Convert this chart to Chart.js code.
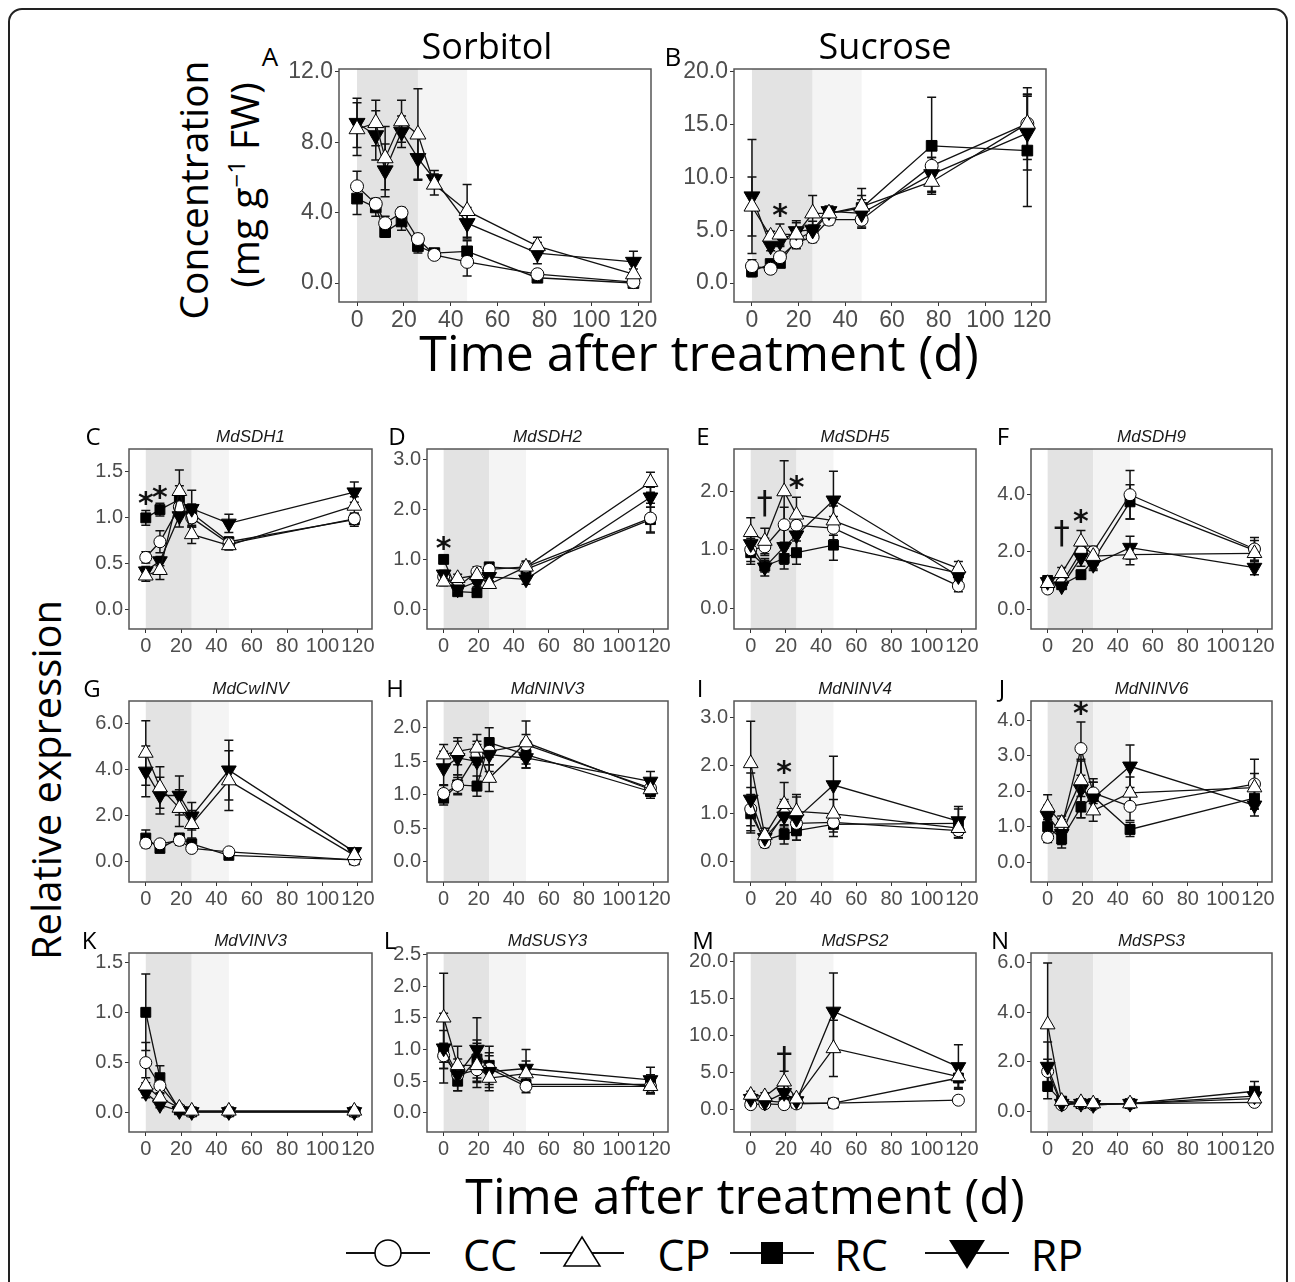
<!DOCTYPE html>
<html>
<head>
<meta charset="utf-8">
<script src="https://cdn.jsdelivr.net/npm/chart.js@4.4.0/dist/chart.umd.min.js"></script>
<style>
body{margin:0;background:#fff;}
#fig{position:relative;width:1295px;height:1282px;overflow:hidden;font-family:"Open Sans",sans-serif;background:#fff;}
.frame{position:absolute;left:8px;top:8px;width:1276px;height:1300px;border:2px solid #222;border-radius:14px;}
.t{position:absolute;white-space:nowrap;color:#000;transform:translate(-50%,-50%);line-height:1;}
.rot{transform:translate(-50%,-50%) rotate(-90deg);}
.gene{font-family:"Liberation Sans",Arial,sans-serif;font-style:italic;font-size:17px;color:#1a1a1a;}
canvas{position:absolute;}
</style>
</head>
<body>
<div id="fig"><div class="frame"></div></div>
<script>
// sampling days
var longDays = [0, 8, 12, 19, 26, 33, 47, 77, 118];
var shortDays = [0, 8, 19, 26, 47, 118];
var xTicks = [0, 20, 40, 60, 80, 100, 120];
var groups = ["CC", "CP", "RC", "RP"];

// rows: CC, CP, RC, RP
var sorbitolMean = [
	[5.5, 4.5, 3.4, 4.0, 2.5, 1.6, 1.2, 0.5, 0.05],
	[8.75, 9.1, 7.1, 9.2, 8.45, 5.6, 4.1, 2.1, 0.5],
	[4.8, 4.3, 2.9, 3.5, 2.1, 1.7, 1.8, 0.3, 0.0],
	[9.1, 8.4, 6.4, 8.6, 7.1, 5.9, 3.4, 1.7, 1.2]
];
var sorbitolSd = [
	[0.85, 0.3, 0.4, 0.3, 0.3, 0.2, 0.8, 0.2, 0.1],
	[1.5, 1.3, 1.8, 1.2, 2.6, 0.6, 1.5, 0.5, 0.3],
	[0.9, 0.5, 0.3, 0.5, 0.4, 0.2, 0.6, 0.1, 0.1],
	[1.4, 1.4, 1.5, 0.9, 1.2, 0.5, 0.9, 0.6, 0.6]
];
var sucroseMean = [
	[1.6, 1.35, 2.45, 3.85, 4.35, 6.0, 6.0, 11.1, 15.1],
	[7.25, 4.4, 4.6, 4.6, 6.6, 6.6, 7.25, 9.6, 15.1],
	[1.1, 1.8, 1.9, 4.1, 4.9, 6.6, 7.1, 13.0, 12.55],
	[8.2, 3.55, 3.95, 4.9, 5.05, 6.8, 6.6, 10.3, 14.2]
];
var sucroseSd = [
	[0.6, 0.3, 0.5, 0.6, 0.5, 0.5, 0.8, 0.8, 2.8],
	[2.8, 0.5, 1.0, 1.3, 1.7, 0.6, 1.7, 1.0, 3.4],
	[0.5, 0.3, 0.4, 0.5, 0.6, 0.5, 1.2, 4.6, 5.3],
	[5.4, 0.5, 0.5, 0.8, 0.8, 0.5, 1.3, 1.6, 3.5]
];
var sdh1Mean = [[0.57, 0.74, 1.12, 1.0, 0.72, 0.99], [0.37, 0.43, 1.29, 0.82, 0.7, 1.13], [1.0, 1.09, 1.2, 1.05, 0.74, 0.98], [0.42, 0.53, 1.02, 1.1, 0.94, 1.28]];
var sdh1Sd = [[0.06, 0.12, 0.1, 0.1, 0.05, 0.06], [0.06, 0.1, 0.23, 0.1, 0.05, 0.1], [0.08, 0.07, 0.15, 0.1, 0.05, 0.07], [0.05, 0.05, 0.12, 0.2, 0.1, 0.11]];
var sdh2Mean = [[0.65, 0.45, 0.75, 0.8, 0.85, 1.83], [0.55, 0.62, 0.68, 0.5, 0.85, 2.55], [1.0, 0.35, 0.33, 0.85, 0.8, 1.8], [0.7, 0.4, 0.55, 0.65, 0.6, 2.25]];
var sdh2Sd = [[0.08, 0.1, 0.1, 0.08, 0.1, 0.3], [0.08, 0.08, 0.1, 0.06, 0.12, 0.2], [0.05, 0.05, 0.05, 0.06, 0.08, 0.25], [0.08, 0.08, 0.1, 0.08, 0.1, 0.2]];
var sdh5Mean = [[1.0, 1.05, 1.43, 1.42, 1.37, 0.38], [1.3, 1.15, 2.0, 1.6, 1.5, 0.68], [0.95, 0.72, 0.85, 0.95, 1.08, 0.6], [1.1, 0.7, 1.05, 1.25, 1.85, 0.55]];
var sdh5Sd = [[0.2, 0.15, 0.3, 0.2, 0.2, 0.1], [0.25, 0.22, 0.53, 0.3, 0.25, 0.12], [0.2, 0.1, 0.18, 0.2, 0.26, 0.1], [0.15, 0.15, 0.3, 0.25, 0.5, 0.1]];
var sdh9Mean = [[0.7, 0.9, 2.0, 2.0, 4.0, 2.1], [0.9, 1.25, 2.35, 1.85, 1.9, 1.95], [1.0, 0.85, 1.2, 1.7, 3.75, 2.05], [0.95, 0.8, 1.8, 1.55, 2.15, 1.45]];
var sdh9Sd = [[0.1, 0.1, 0.2, 0.2, 0.85, 0.4], [0.15, 0.2, 0.4, 0.3, 0.35, 0.3], [0.1, 0.1, 0.15, 0.3, 0.6, 0.35], [0.1, 0.1, 0.3, 0.2, 0.4, 0.25]];
var cwinvMean = [[0.78, 0.75, 0.9, 0.55, 0.4, 0.05], [4.7, 3.2, 2.3, 1.6, 3.5, 0.25], [1.0, 0.55, 1.0, 0.75, 0.25, 0.05], [3.9, 2.85, 2.85, 1.95, 3.95, 0.4]];
var cwinvSd = [[0.2, 0.15, 0.2, 0.1, 0.1, 0.05], [1.4, 0.9, 0.8, 0.6, 1.3, 0.1], [0.35, 0.15, 0.2, 0.15, 0.1, 0.05], [1.1, 0.8, 0.85, 0.6, 1.3, 0.1]];
var ninv3Mean = [[1.02, 1.14, 1.6, 1.65, 1.75, 1.1], [1.6, 1.65, 1.7, 1.25, 1.78, 1.08], [0.95, 1.15, 1.13, 1.78, 1.6, 1.05], [1.4, 1.55, 1.5, 1.6, 1.55, 1.2]];
var ninv3Sd = [[0.12, 0.12, 0.15, 0.2, 0.15, 0.1], [0.15, 0.2, 0.2, 0.2, 0.32, 0.1], [0.1, 0.15, 0.15, 0.22, 0.2, 0.1], [0.25, 0.25, 0.3, 0.25, 0.15, 0.15]];
var ninv4Mean = [[1.1, 0.4, 1.0, 0.8, 0.82, 0.65], [2.05, 0.55, 1.2, 1.05, 1.0, 0.7], [1.0, 0.45, 0.57, 0.65, 0.78, 0.8], [1.3, 0.5, 0.95, 0.9, 1.6, 0.85]];
var ninv4Sd = [[0.45, 0.1, 0.3, 0.25, 0.2, 0.15], [0.88, 0.15, 0.45, 0.35, 0.3, 0.2], [0.4, 0.1, 0.2, 0.2, 0.25, 0.3], [0.55, 0.15, 0.3, 0.45, 0.6, 0.3]];
var ninv6Mean = [[0.7, 1.0, 3.2, 1.95, 1.57, 2.2], [1.55, 1.1, 2.3, 1.45, 1.95, 2.1], [1.0, 0.65, 1.55, 1.85, 0.92, 1.8], [1.3, 0.8, 2.05, 1.8, 2.7, 1.6]];
var ninv6Sd = [[0.15, 0.2, 0.75, 0.3, 0.4, 0.7], [0.35, 0.2, 0.6, 0.3, 0.45, 0.4], [0.2, 0.25, 0.3, 0.5, 0.2, 0.3], [0.3, 0.3, 0.8, 0.45, 0.6, 0.3]];
var vinv3Mean = [[0.5, 0.27, 0.04, 0.01, 0.01, 0.01], [0.27, 0.15, 0.05, 0.02, 0.02, 0.02], [1.0, 0.35, 0.03, 0.01, 0.01, 0.01], [0.2, 0.08, 0.02, 0.01, 0.01, 0.01]];
var vinv3Sd = [[0.2, 0.08, 0.02, 0.01, 0.01, 0.01], [0.08, 0.05, 0.02, 0.01, 0.01, 0.01], [0.38, 0.12, 0.02, 0.01, 0.01, 0.01], [0.05, 0.03, 0.01, 0.01, 0.01, 0.01]];
var susy3Mean = [[0.9, 0.6, 0.68, 0.7, 0.42, 0.42], [1.5, 0.75, 0.75, 0.55, 0.62, 0.42], [1.0, 0.5, 0.85, 0.75, 0.45, 0.45], [1.02, 0.6, 1.0, 0.65, 0.7, 0.52]];
var susy3Sd = [[0.2, 0.15, 0.2, 0.2, 0.1, 0.1], [0.7, 0.3, 0.35, 0.15, 0.2, 0.1], [0.3, 0.15, 0.3, 0.3, 0.1, 0.15], [0.55, 0.25, 0.5, 0.3, 0.3, 0.2]];
var sps2Mean = [[0.7, 0.8, 0.7, 0.8, 0.9, 1.3], [2.0, 1.8, 3.8, 1.5, 8.3, 4.5], [1.5, 1.2, 1.0, 0.9, 0.9, 4.3], [1.5, 1.0, 2.3, 1.2, 13.3, 5.8]];
var sps2Sd = [[0.3, 0.3, 0.3, 0.3, 0.3, 0.5], [0.5, 0.5, 1.4, 0.5, 3.8, 1.5], [0.5, 0.4, 0.4, 0.3, 0.3, 1.5], [0.5, 0.4, 1.0, 0.5, 5.2, 3.0]];
var sps3Mean = [[1.6, 0.25, 0.3, 0.25, 0.3, 0.35], [3.5, 0.4, 0.35, 0.3, 0.3, 0.5], [1.0, 0.4, 0.3, 0.3, 0.3, 0.8], [1.8, 0.3, 0.3, 0.25, 0.3, 0.6]];
var sps3Sd = [[0.5, 0.1, 0.1, 0.1, 0.1, 0.15], [2.5, 0.15, 0.1, 0.1, 0.1, 0.2], [0.5, 0.15, 0.1, 0.1, 0.1, 0.4], [1.0, 0.1, 0.1, 0.1, 0.1, 0.3]];

// y tick labels
var ticksA = [0, 4, 8, 12];
var ticksB = [0, 5, 10, 15, 20];
var ticksHalf = [0, 0.5, 1, 1.5];
var ticks0to3 = [0, 1, 2, 3];
var ticks0to2 = [0, 1, 2];
var ticksEven4 = [0, 2, 4];
var ticksEven6 = [0, 2, 4, 6];
var ticksHalf2 = [0, 0.5, 1, 1.5, 2];
var ticks0to4 = [0, 1, 2, 3, 4];
var ticksHalf25 = [0, 0.5, 1, 1.5, 2, 2.5];
var ticksFive20 = [0, 5, 10, 15, 20];

var fig = document.getElementById("fig");

function text(html, x, y, size, cls) {
	var d = document.createElement("div");
	d.className = "t" + (cls ? " " + cls : "");
	d.style.left = x + "px";
	d.style.top = y + "px";
	if (size) d.style.fontSize = size + "px";
	d.innerHTML = html;
	fig.appendChild(d);
	return d;
}

var deco = {
	id: "deco",
	beforeDatasetsDraw: function(chart, args, opts) {
		var ctx = chart.ctx, a = chart.chartArea, x = chart.scales.x, y = chart.scales.y;
		ctx.save();
		ctx.fillStyle = "#e3e3e3";
		ctx.fillRect(x.getPixelForValue(0), a.top, x.getPixelForValue(26) - x.getPixelForValue(0), a.bottom - a.top);
		ctx.fillStyle = "#f4f4f4";
		ctx.fillRect(x.getPixelForValue(26), a.top, x.getPixelForValue(47) - x.getPixelForValue(26), a.bottom - a.top);
		// error bars
		ctx.strokeStyle = "#111";
		ctx.lineWidth = 1.5;
		chart.data.datasets.forEach(function(ds) {
			ds.data.forEach(function(p) {
				var px = x.getPixelForValue(p.x);
				var y1 = y.getPixelForValue(p.y + p.e), y2 = y.getPixelForValue(Math.max(p.y - p.e, y.min));
				var c = opts.cap;
				ctx.beginPath();
				ctx.moveTo(px, y1); ctx.lineTo(px, y2);
				ctx.moveTo(px - c, y1); ctx.lineTo(px + c, y1);
				if (p.y - p.e > y.min) { ctx.moveTo(px - c, y2); ctx.lineTo(px + c, y2); }
				ctx.stroke();
			});
		});
		ctx.restore();
	},
	afterDraw: function(chart, args, opts) {
		var ctx = chart.ctx, a = chart.chartArea, x = chart.scales.x, y = chart.scales.y;
		ctx.save();
		ctx.strokeStyle = "#555";
		ctx.lineWidth = 1.5;
		ctx.strokeRect(a.left, a.top, a.right - a.left, a.bottom - a.top);
		ctx.fillStyle = "#111";
		ctx.textAlign = "center";
		ctx.textBaseline = "middle";
		(opts.marks || []).forEach(function(m) {
			ctx.font = m.t == "*" ? "bold 30px 'DejaVu Sans'" : "32px 'DejaVu Sans'";
			ctx.fillText(m.t, x.getPixelForValue(m.x), y.getPixelForValue(m.y) + (m.t == "*" ? 6 : 0));
		});
		ctx.restore();
	}
};

var styles = {
	CC: {pointStyle: "circle", r: 6, fill: "#fff", rot: 0},
	CP: {pointStyle: "triangle", r: 8.5, fill: "#fff", rot: 0},
	RC: {pointStyle: "rect", r: 7, fill: "#000", rot: 0},
	RP: {pointStyle: "triangle", r: 8.5, fill: "#000", rot: 180}
};
// draw order: first dataset ends on top
var drawOrder = ["CP", "RP", "CC", "RC"];

function makePanel(p) {
	var l = p.rect[0], t = p.rect[1], r = p.rect[2], b = p.rect[3];
	var yW = p.big ? 60 : 50, xH = p.big ? 32 : 28, pt = 16, pr = 22;
	var w = r - l + yW + pr, h = b - t + pt + xH;
	var cv = document.createElement("canvas");
	cv.width = w; cv.height = h;
	cv.style.left = (l - yW) + "px";
	cv.style.top = (t - pt) + "px";
	cv.style.width = w + "px";
	cv.style.height = h + "px";
	fig.appendChild(cv);

	var k = p.big ? 1.08 : 1;
	var datasets = drawOrder.map(function(g) {
		var gi = groups.indexOf(g), st = styles[g];
		return {
			label: g,
			data: p.days.map(function(d, i) { return {x: d, y: p.mean[gi][i], e: p.sd[gi][i]}; }),
			borderColor: "#111",
			borderWidth: 1.3,
			pointStyle: st.pointStyle,
			pointRadius: st.r * k,
			pointRotation: st.rot,
			pointBackgroundColor: st.fill,
			pointBorderColor: "#000",
			pointBorderWidth: 1,
			tension: 0
		};
	});

	var fs = p.big ? 23 : 20;
	var tickFont = {family: "Liberation Sans", size: fs};
	new Chart(cv, {
		type: "line",
		data: {datasets: datasets},
		options: {
			responsive: false,
			animation: false,
			devicePixelRatio: 1,
			layout: {autoPadding: false, padding: {top: pt, right: pr, left: 0, bottom: 0}},
			plugins: {legend: {display: false}, tooltip: {enabled: false}, deco: {marks: p.marks, cap: 4.5}},
			scales: {
				x: {
					type: "linear", min: p.xmin, max: p.xmax,
					afterBuildTicks: function(s) { s.ticks = xTicks.map(function(v) { return {value: v}; }); },
					afterFit: function(s) { s.height = xH; },
					ticks: {padding: 1, color: "#4d4d4d", font: tickFont, maxRotation: 0, autoSkip: false},
					grid: {drawOnChartArea: false, tickLength: 4, color: "#333"},
					border: {display: false}
				},
				y: {
					type: "linear", min: p.ymin, max: p.ymax,
					afterBuildTicks: function(s) { s.ticks = p.yt.map(function(v) { return {value: v}; }); },
					afterFit: function(s) { s.width = yW; },
					ticks: {padding: 2, color: "#4d4d4d", font: tickFont, autoSkip: false,
						callback: function(v) { return Number(v).toFixed(1); }},
					grid: {drawOnChartArea: false, tickLength: 4, color: "#333"},
					border: {display: false}
				}
			}
		},
		plugins: [deco]
	});

	if (p.gene) text(p.gene, (l + r) / 2, t - 13, null, "gene");
	text(p.id, p.lx, p.ly, p.big ? 26 : 24);
}

var S = {xmin: -9.5, xmax: 128, days: shortDays};
function small(o) { for (var key in S) if (!(key in o)) o[key] = S[key]; return o; }

var row1 = 449, row1b = 629, row2 = 701, row2b = 882, row3 = 953, row3b = 1132;
var panels = [
	{id: "A", big: true, mean: sorbitolMean, sd: sorbitolSd, days: longDays, rect: [339, 69, 651, 302], xmin: -7.7, xmax: 125.5, ymin: -1.08, ymax: 12.17, yt: ticksA, lx: 270, ly: 56, marks: []},
	{id: "B", big: true, mean: sucroseMean, sd: sucroseSd, days: longDays, rect: [734, 69, 1046, 302], xmin: -7.7, xmax: 126, ymin: -1.8, ymax: 20.28, yt: ticksB, lx: 673, ly: 56, marks: [{x: 12, y: 6.8, t: "*"}]},
	small({id: "C", gene: "MdSDH1", mean: sdh1Mean, sd: sdh1Sd, rect: [129, row1, 372, row1b], ymin: -0.21, ymax: 1.75, yt: ticksHalf, lx: 93, ly: 436, marks: [{x: 0, y: 1.2, t: "*"}, {x: 8, y: 1.27, t: "*"}]}),
	small({id: "D", gene: "MdSDH2", mean: sdh2Mean, sd: sdh2Sd, rect: [427, row1, 668, row1b], ymin: -0.4, ymax: 3.22, yt: ticks0to3, lx: 397, ly: 436, marks: [{x: 0, y: 1.3, t: "*"}]}),
	small({id: "E", gene: "MdSDH5", mean: sdh5Mean, sd: sdh5Sd, rect: [734, row1, 976, row1b], ymin: -0.36, ymax: 2.73, yt: ticks0to2, lx: 703, ly: 436, marks: [{x: 8, y: 1.78, t: "\u2020"}, {x: 26, y: 2.15, t: "*"}]}),
	small({id: "F", gene: "MdSDH9", mean: sdh9Mean, sd: sdh9Sd, rect: [1031, row1, 1272, row1b], ymin: -0.7, ymax: 5.6, yt: ticksEven4, lx: 1003, ly: 436, marks: [{x: 8, y: 2.6, t: "\u2020"}, {x: 19, y: 3.2, t: "*"}]}),
	small({id: "G", gene: "MdCwINV", mean: cwinvMean, sd: cwinvSd, rect: [129, row2, 372, row2b], ymin: -0.91, ymax: 6.96, yt: ticksEven6, lx: 92, ly: 688, marks: []}),
	small({id: "H", gene: "MdNINV3", mean: ninv3Mean, sd: ninv3Sd, rect: [427, row2, 668, row2b], ymin: -0.3, ymax: 2.4, yt: ticksHalf2, lx: 395, ly: 688, marks: []}),
	small({id: "I", gene: "MdNINV4", mean: ninv4Mean, sd: ninv4Sd, rect: [734, row2, 976, row2b], ymin: -0.42, ymax: 3.35, yt: ticks0to3, lx: 700, ly: 688, marks: [{x: 19, y: 1.95, t: "*"}]}),
	small({id: "J", gene: "MdNINV6", mean: ninv6Mean, sd: ninv6Sd, rect: [1031, row2, 1272, row2b], ymin: -0.56, ymax: 4.54, yt: ticks0to4, lx: 1002, ly: 688, marks: [{x: 19, y: 4.3, t: "*"}]}),
	small({id: "K", gene: "MdVINV3", mean: vinv3Mean, sd: vinv3Sd, rect: [129, row3, 372, row3b], ymin: -0.19, ymax: 1.59, yt: ticksHalf, lx: 89, ly: 940, marks: []}),
	small({id: "L", gene: "MdSUSY3", mean: susy3Mean, sd: susy3Sd, rect: [427, row3, 668, row3b], ymin: -0.3, ymax: 2.52, yt: ticksHalf25, lx: 390, ly: 940, marks: []}),
	small({id: "M", gene: "MdSPS2", mean: sps2Mean, sd: sps2Sd, rect: [734, row3, 976, row3b], ymin: -3.0, ymax: 21.2, yt: ticksFive20, lx: 703, ly: 940, marks: [{x: 19, y: 6.7, t: "\u2020"}]}),
	small({id: "N", gene: "MdSPS3", mean: sps3Mean, sd: sps3Sd, rect: [1031, row3, 1272, row3b], ymin: -0.85, ymax: 6.4, yt: ticksEven6, lx: 1000, ly: 940, marks: []})
];

Chart.defaults.font.family = "Liberation Sans";
panels.forEach(makePanel);

// titles
text("Sorbitol", 487, 46, 36);
text("Sucrose", 885, 46, 36);
text("Concentration", 192, 190, 39, "rot");
text("(mg g<sup style='font-size:24px;vertical-align:14px'>\u22121</sup> FW)", 243, 185, 39, "rot");
text("Time after treatment (d)", 699, 352, 50);
text("Time after treatment (d)", 745, 1195, 50);
text("Relative expression", 46, 780, 40, "rot");

// legend
var legendItems = [
	{g: "CC", x: 346, tx: 490},
	{g: "CP", x: 540, tx: 684},
	{g: "RC", x: 730, tx: 861},
	{g: "RP", x: 925, tx: 1057}
];
legendItems.forEach(function(it) {
	var shape;
	if (it.g == "CC") shape = "<circle cx='42' cy='20' r='13' fill='#fff' stroke='#000' stroke-width='1.5'/>";
	if (it.g == "CP") shape = "<polygon points='42,4 60,33 24,33' fill='#fff' stroke='#000' stroke-width='1.5'/>";
	if (it.g == "RC") shape = "<rect x='31' y='9' width='22' height='22' fill='#000'/>";
	if (it.g == "RP") shape = "<polygon points='42,36 60,7 24,7' fill='#000'/>";
	var d = document.createElement("div");
	d.style.cssText = "position:absolute;left:" + it.x + "px;top:1233px;width:84px;height:40px;";
	d.innerHTML = "<svg width='84' height='40'><line x1='0' y1='20' x2='84' y2='20' stroke='#111' stroke-width='2'/>" + shape + "</svg>";
	fig.appendChild(d);
	text(it.g, it.tx, 1254, 43);
});
</script>
</body>
</html>
